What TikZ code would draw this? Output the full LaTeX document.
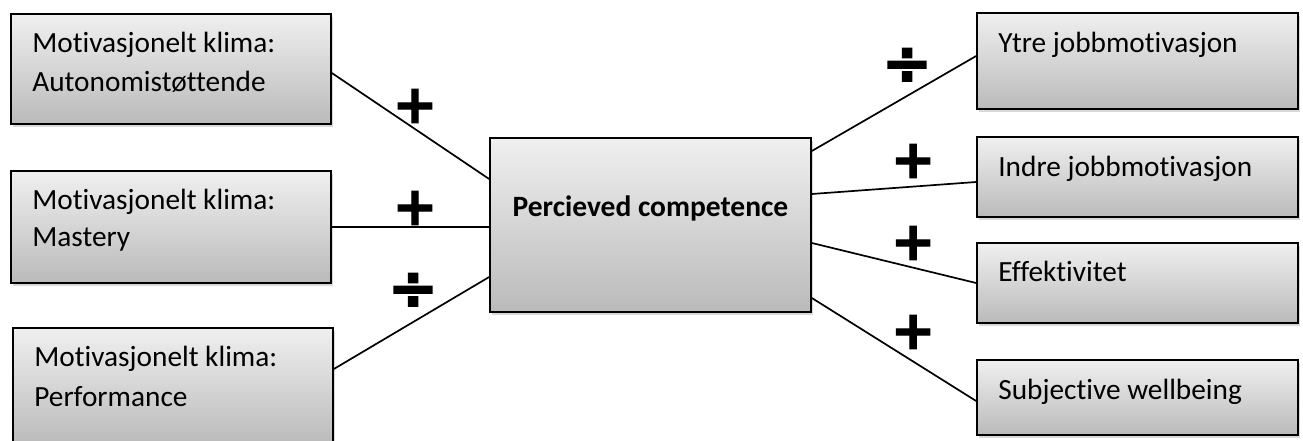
\documentclass[tikz,border=0pt]{standalone}
\usepackage{fontspec}
\setmainfont{Carlito}[Ligatures={NoCommon}]
\newfontfamily\signfont{DejaVu Sans}[BoldFeatures={FakeBold=2.5}]
\usetikzlibrary{shadows,calc}
\tikzset{
  box/.style={draw=black, line width=1.7pt, rectangle, inner sep=0pt,
    top color=black!6, bottom color=black!27,
    drop shadow={opacity=0.3, shadow xshift=2pt, shadow yshift=-3pt}},
  lbl/.style={anchor=base west, inner sep=0pt, font=\fontsize{29.3}{37}\selectfont},
  conn/.style={draw=black, line width=1.7pt},
  sign/.style={inner sep=0pt, font=\signfont\bfseries\fontsize{53}{53}\selectfont},
  divsign/.style={inner sep=0pt, font=\signfont\bfseries\fontsize{60}{60}\selectfont}
}
\begin{document}
\begin{tikzpicture}[x=1pt, y=-1pt]
\useasboundingbox (0,0) rectangle (1303,441);
% left boxes
\node[box, minimum width=320pt, minimum height=110pt] (b1) at (171,69) {};
\node[box, minimum width=320pt, minimum height=112pt] (b2) at (171,227) {};
\node[box, minimum width=320pt, minimum height=117pt] (b3) at (173,386.5) {};
% centre
\node[box, minimum width=321pt, minimum height=174pt] (pc) at (650.5,225) {};
% right boxes
\node[box, minimum width=321pt, minimum height=96pt] (r1) at (1137.5,61) {};
\node[box, minimum width=321pt, minimum height=80pt] (r2) at (1137.5,177) {};
\node[box, minimum width=321pt, minimum height=80pt] (r3) at (1137.5,283) {};
\node[box, minimum width=321pt, minimum height=75pt] (r4) at (1137.5,397.5) {};
% labels
\node[lbl] (t1a) at ($(b1.north west)+(22pt,-39pt)$) {Motivasjonelt klima:};
\node[lbl] (t1b) at ($(b1.north west)+(22pt,-78pt)$) {Autonomistøttende};
\node[lbl] (t2a) at ($(b2.north west)+(22pt,-39pt)$) {Motivasjonelt klima:};
\node[lbl] (t2b) at ($(b2.north west)+(22pt,-76pt)$) {Mastery};
\node[lbl] (t3a) at ($(b3.north west)+(22pt,-39pt)$) {Motivasjonelt klima:};
\node[lbl] (t3b) at ($(b3.north west)+(22pt,-79pt)$) {Performance};
\node[lbl, anchor=base, font=\bfseries\fontsize{29.5}{37}\selectfont] (tpc) at ($(pc.north)+(0,-79pt)$) {Percieved competence};
\node[lbl] (tr1) at ($(r1.north west)+(22pt,-40pt)$) {Ytre jobbmotivasjon};
\node[lbl] (tr2) at ($(r2.north west)+(22pt,-40pt)$) {Indre jobbmotivasjon};
\node[lbl] (tr3) at ($(r3.north west)+(22pt,-39pt)$) {Effektivitet};
\node[lbl] (tr4) at ($(r4.north west)+(22pt,-40pt)$) {Subjective wellbeing};
% connectors
\draw[conn] ([yshift=-4pt]b1.east) -- ([yshift=46pt]pc.west);
\draw[conn] (b2.east) -- (b2.east -| pc.west);
\draw[conn] ([yshift=17.5pt]b3.east) -- ([yshift=-52pt]pc.west);
\draw[conn] ([yshift=74pt]pc.east) -- ([yshift=5pt]r1.west);
\draw[conn] ([yshift=31pt]pc.east) -- ([yshift=-5pt]r2.west);
\draw[conn] ([yshift=-18pt]pc.east) -- (r3.west);
\draw[conn] ([yshift=-73pt]pc.east) -- ([yshift=-3.5pt]r4.west);
% signs
\node[sign] (s1) at (415,106) {+};
\node[sign] (s2) at (415,208) {+};
\node[divsign] (s3) at (413,291) {÷};
\node[divsign] (s4) at (907,66) {÷};
\node[sign] (s5) at (913,161) {+};
\node[sign] (s6) at (913,243) {+};
\node[sign] (s7) at (913,332) {+};
\end{tikzpicture}
\end{document}
